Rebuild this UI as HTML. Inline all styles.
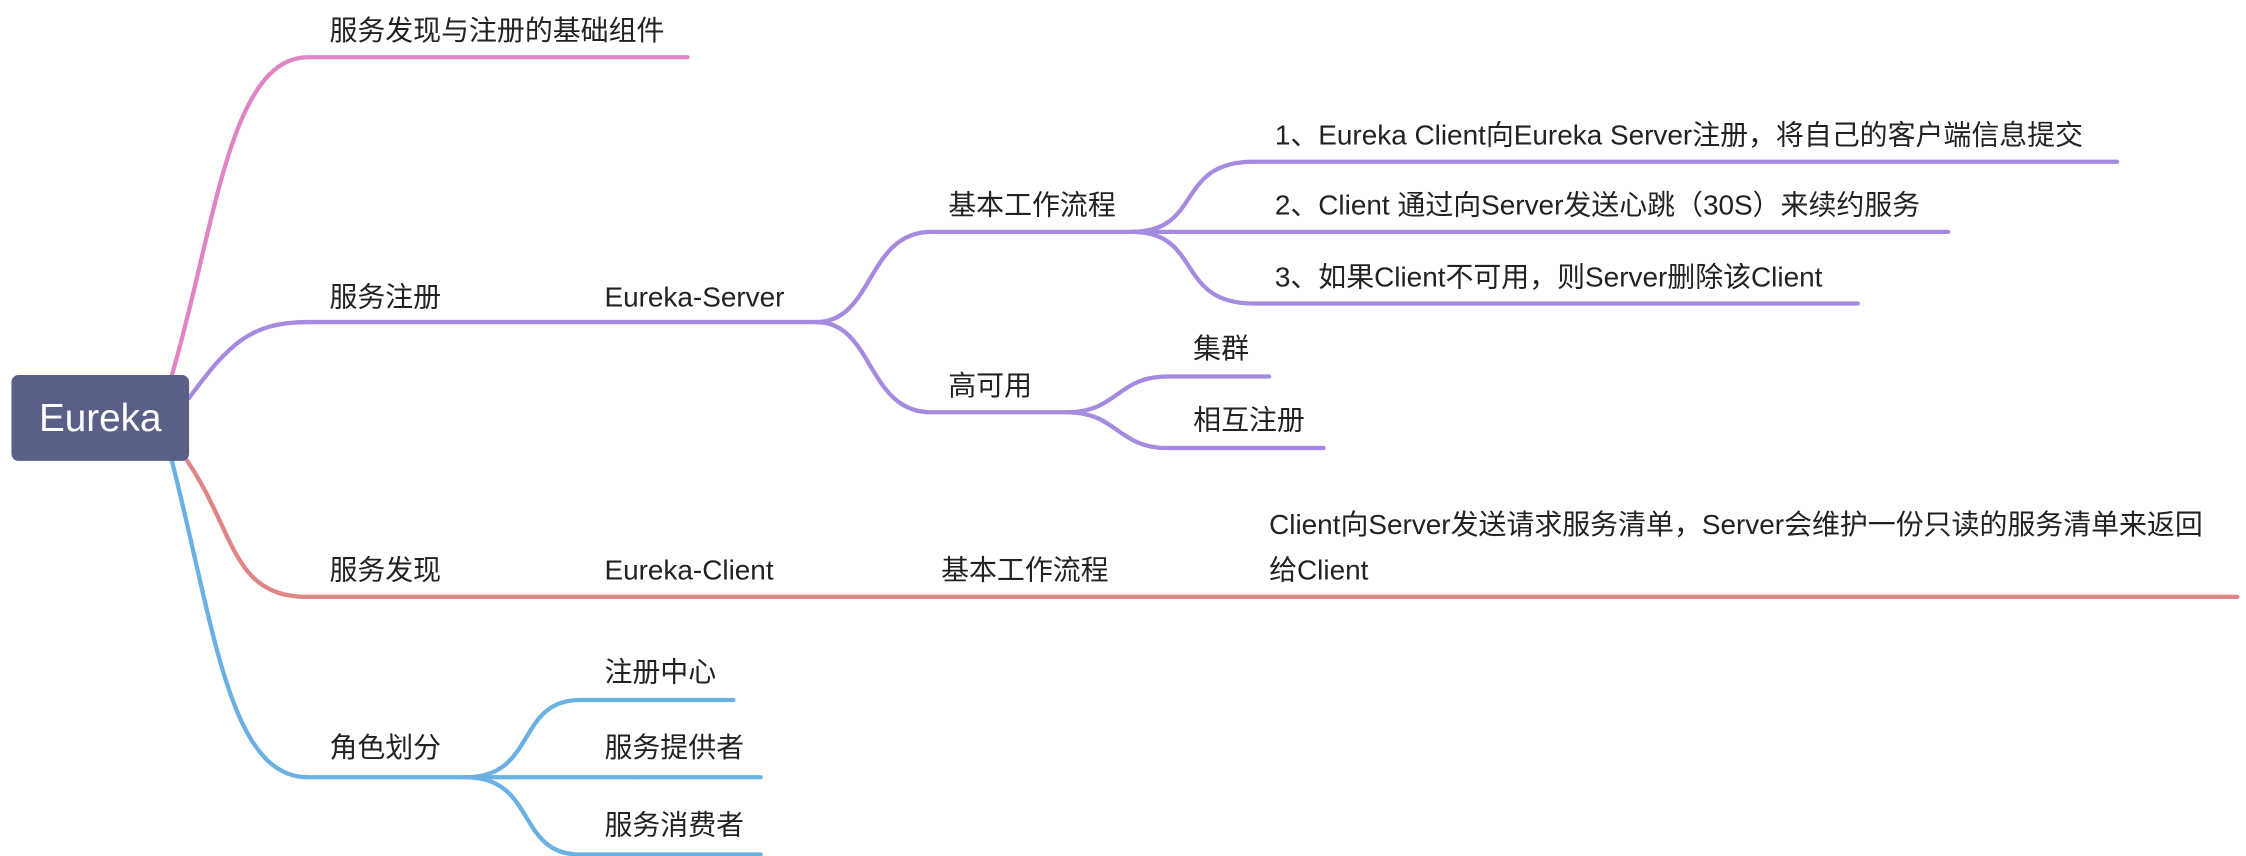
<!DOCTYPE html>
<html><head><meta charset="utf-8"><style>
html,body{margin:0;padding:0;background:#fff;}
svg{display:block;}
text{font-family:"Liberation Sans","Noto Sans CJK SC",sans-serif;font-size:19.5px;fill:#222;}
</style></head><body>
<svg width="2246" height="856" viewBox="0 0 1568 598" preserveAspectRatio="none">
<g fill="none" stroke-width="3" stroke-linecap="round">
<path d="M120 262 C 150 160, 160 40, 215 40 L 480 40" stroke="#df85c6"/>
<path d="M132 278 C 160 240, 175 225, 215 225 L 570 225" stroke="#a68adf"/>
<path d="M570 225 C 610 225, 605 162, 650 162 L 800 162" stroke="#a68adf"/>
<path d="M570 225 C 610 225, 605 288, 650 288 L 750 288" stroke="#a68adf"/>
<path d="M790 162 C 840 162, 820 113, 875 113 L 1478 113" stroke="#a68adf"/>
<path d="M790 162 L 1360 162" stroke="#a68adf"/>
<path d="M790 162 C 840 162, 820 212, 875 212 L 1297 212" stroke="#a68adf"/>
<path d="M745 288 C 780 288, 780 263, 815 263 L 886 263" stroke="#a68adf"/>
<path d="M745 288 C 780 288, 780 313, 815 313 L 924 313" stroke="#a68adf"/>
<path d="M128 318 C 165 370, 160 417, 215 417 L 1562 417" stroke="#e08585"/>
<path d="M120 322 C 150 440, 160 543, 215 543 L 330 543" stroke="#6bb0e3"/>
<path d="M325 543 C 375 543, 360 489, 405 489 L 512 489" stroke="#6bb0e3"/>
<path d="M325 543 L 531 543" stroke="#6bb0e3"/>
<path d="M325 543 C 375 543, 360 597, 405 597 L 531 597" stroke="#6bb0e3"/>
</g>
<rect x="8" y="262" width="124" height="60" rx="5" fill="#5a5f87"/>
<text x="70" y="301" text-anchor="middle" style="font-size:27px;fill:#fff">Eureka</text>
<text x="230" y="28">服务发现与注册的基础组件</text>
<text x="230" y="214">服务注册</text>
<text x="422" y="214">Eureka-Server</text>
<text x="662" y="150">基本工作流程</text>
<text x="662" y="276">高可用</text>
<text x="890" y="101">1、Eureka Client向Eureka Server注册，将自己的客户端信息提交</text>
<text x="890" y="150">2、Client 通过向Server发送心跳（30S）来续约服务</text>
<text x="890" y="200">3、如果Client不可用，则Server删除该Client</text>
<text x="833" y="250">集群</text>
<text x="833" y="300">相互注册</text>
<text x="230" y="405">服务发现</text>
<text x="422" y="405">Eureka-Client</text>
<text x="657" y="405">基本工作流程</text>
<text x="886" y="373">Client向Server发送请求服务清单，Server会维护一份只读的服务清单来返回</text>
<text x="886" y="405">给Client</text>
<text x="230" y="529">角色划分</text>
<text x="422" y="476">注册中心</text>
<text x="422" y="529">服务提供者</text>
<text x="422" y="583">服务消费者</text>
</svg>
</body></html>
